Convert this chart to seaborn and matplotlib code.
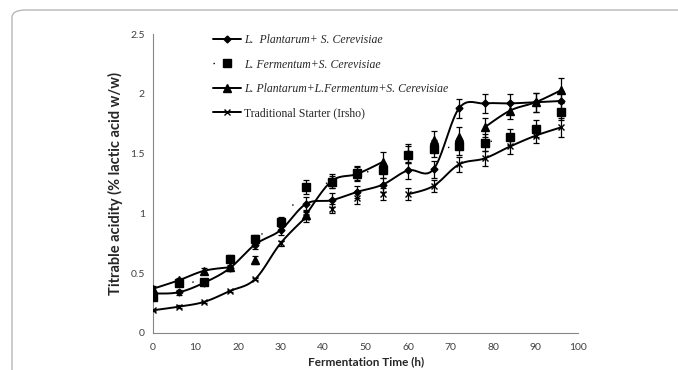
import numpy as np
import pandas as pd
import matplotlib
matplotlib.use('Agg')
import matplotlib.pyplot as plt
import seaborn as sns
from matplotlib.lines import Line2D
from matplotlib.patches import FancyBboxPatch

# Data
time_h = [0, 6, 12, 18, 24, 30, 36, 42, 48, 54, 60, 66, 72, 78, 84, 90, 96]

lp_sc = [0.33, 0.34, 0.42, 0.54, 0.74, 0.86, 1.08, 1.11, 1.18, 1.24,
         1.36, 1.37, 1.88, 1.92, 1.92, 1.93, 1.94]
lp_sc_err = [0.02, 0.02, 0.02, 0.02, 0.04, 0.04, 0.06, 0.06, 0.05, 0.06,
             0.07, 0.07, 0.08, 0.08, 0.08, 0.08, 0.08]

lf_sc = [0.30, 0.42, 0.43, 0.62, 0.79, 0.93, 1.22, 1.26, 1.34, 1.36,
         1.49, 1.54, 1.56, 1.59, 1.64, 1.71, 1.85]
lf_sc_err = [0.02, 0.02, 0.02, 0.03, 0.03, 0.04, 0.06, 0.05, 0.06, 0.06,
             0.07, 0.07, 0.07, 0.07, 0.07, 0.07, 0.07]

lp_lf_sc = [0.37, 0.44, 0.52, 0.55, 0.61, 0.93, 0.99, 1.27, 1.33, 1.43,
            1.50, 1.61, 1.64, 1.72, 1.86, 1.93, 2.03]
lp_lf_sc_err = [0.02, 0.02, 0.02, 0.02, 0.03, 0.03, 0.04, 0.06, 0.06, 0.08,
                0.08, 0.08, 0.08, 0.08, 0.07, 0.08, 0.10]

trad = [0.19, 0.22, 0.26, 0.35, 0.45, 0.75, 0.97, 1.04, 1.13, 1.16,
        1.16, 1.23, 1.41, 1.46, 1.56, 1.65, 1.72]
trad_err = [0.01, 0.01, 0.01, 0.01, 0.01, 0.02, 0.04, 0.04, 0.05, 0.05,
            0.05, 0.05, 0.06, 0.06, 0.06, 0.06, 0.08]

# index ranges where the connecting line is drawn
lp_sc_segments = [(0, 16)]
lp_lf_sc_segments = [(0, 3), (6, 9), (13, 16)]
trad_segments = [(0, 6), (10, 16)]

labels = ['L.  Plantarum+ S. Cerevisiae',
          'L. Fermentum+S. Cerevisiae',
          'L. Plantarum+L.Fermentum+S. Cerevisiae',
          'Traditional Starter (Irsho)']


def smooth(x, y, n=20):
    # Excel-like smoothed line (Catmull-Rom through the points)
    x = np.asarray(x, float)
    y = np.asarray(y, float)
    if len(x) < 3:
        return x, y
    px = np.concatenate([[x[0]], x, [x[-1]]])
    py = np.concatenate([[y[0]], y, [y[-1]]])
    xs, ys = [], []
    t = np.linspace(0, 1, n)
    for i in range(1, len(px) - 2):
        for arr, out in ((px, xs), (py, ys)):
            p0, p1, p2, p3 = arr[i - 1], arr[i], arr[i + 1], arr[i + 2]
            c1 = p1 + (p2 - p0) / 6
            c2 = p2 - (p3 - p1) / 6
            out.append((1 - t) ** 3 * p1 + 3 * (1 - t) ** 2 * t * c1
                       + 3 * (1 - t) * t ** 2 * c2 + t ** 3 * p2)
    return np.concatenate(xs), np.concatenate(ys)


sns.set_style('white')
plt.rcParams['font.family'] = ['Lato', 'DejaVu Sans']

fig = plt.figure(figsize=(6.78, 3.70), dpi=100)
ax = fig.add_axes([0.2257, 0.100, 0.627, 0.808])

# rounded frame around the figure (cut off at right / bottom)
frame = FancyBboxPatch((12 / 678, -0.2), 1.2, 360 / 370 + 0.2,
                       boxstyle='round,pad=0,rounding_size=0.02',
                       transform=fig.transFigure, fill=False,
                       edgecolor='#b8b8b8', linewidth=1.0, zorder=0)
fig.patches.append(frame)

t_arr = np.array(time_h)

# smoothed lines
for vals, segs in ((lp_sc, lp_sc_segments), (lp_lf_sc, lp_lf_sc_segments),
                   (trad, trad_segments)):
    v = np.array(vals)
    for a, b in segs:
        sx, sy = smooth(t_arr[a:b + 1], v[a:b + 1])
        df = pd.DataFrame({'t': sx, 'v': sy})
        sns.lineplot(data=df, x='t', y='v', ax=ax, color='black',
                     linewidth=1.4, sort=False, estimator=None, zorder=2)

# sparse dotted line for L. Fermentum
ax.plot(time_h, lf_sc, color='black', linewidth=1.0,
        linestyle=(0, (1, 30)), zorder=2)

# markers with error bars
styles = [
    (lp_sc, lp_sc_err, 'D', 3.5),
    (lf_sc, lf_sc_err, 's', 6),
    (lp_lf_sc, lp_lf_sc_err, '^', 5.5),
    (trad, trad_err, 'x', 5),
]
for vals, err, mk, ms in styles:
    ax.errorbar(time_h, vals, yerr=err, fmt='none', ecolor='black',
                elinewidth=0.9, capsize=2.5, capthick=0.9, zorder=3)
    ax.plot(time_h, vals, linestyle='none', marker=mk, markersize=ms,
            color='black', markeredgewidth=1.0, zorder=4)

ax.set_xlim(0, 100)
ax.set_ylim(0, 2.5)
ax.set_xticks(np.arange(0, 101, 10))
ax.set_yticks([0, 0.5, 1, 1.5, 2, 2.5])
ax.set_yticklabels(['0', '0.5', '1', '1.5', '2', '2.5'])
ax.set_xlabel('Fermentation Time (h)', fontsize=8.5, fontweight='bold',
              labelpad=3)
ax.set_ylabel('Titrable acidity (% lactic acid w/w)', fontsize=10.5,
              fontweight='bold', labelpad=5)
ax.tick_params(axis='both', labelsize=7.5, colors='#404040', length=3,
               width=0.8, direction='out', color='#868686')
ax.tick_params(axis='x', pad=4)
ax.tick_params(axis='y', pad=3)
sns.despine(ax=ax)
for s in ('left', 'bottom'):
    ax.spines[s].set_color('#868686')
    ax.spines[s].set_linewidth(0.8)

handles = [
    Line2D([], [], color='black', linewidth=1.4, marker='D', markersize=3.5),
    Line2D([], [], color='black', linewidth=1.0, linestyle=(0, (1, 30)),
           marker='s', markersize=6),
    Line2D([], [], color='black', linewidth=1.4, marker='^', markersize=5.5),
    Line2D([], [], color='black', linewidth=1.4, marker='x', markersize=5),
]
leg = ax.legend(handles, labels, loc='upper left',
                bbox_to_anchor=(0.115, 1.035), frameon=False,
                handlelength=2.4, handletextpad=0.3, labelspacing=1.05,
                prop={'family': 'Liberation Serif', 'size': 8.5})
for i, txt in enumerate(leg.get_texts()):
    if i < 3:
        txt.set_style('italic')

fig.savefig('out.png', dpi=100)
